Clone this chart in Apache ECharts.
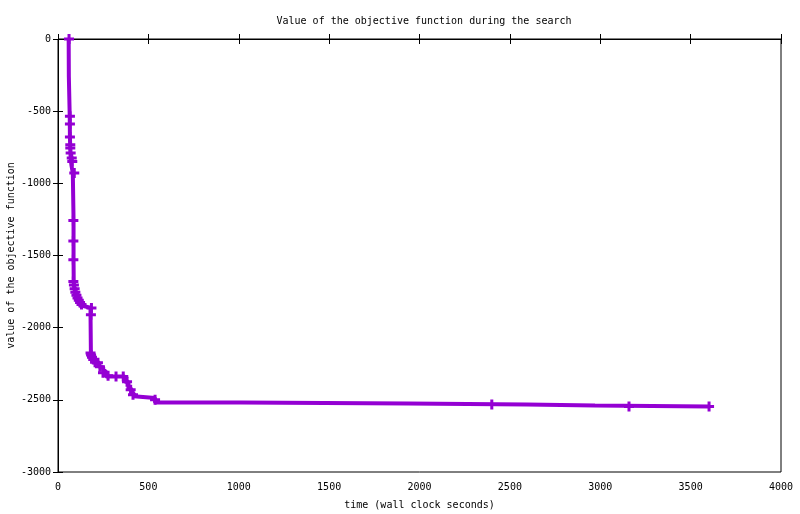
<!DOCTYPE html>
<html>
<head>
<meta charset="utf-8">
<script src="https://cdn.jsdelivr.net/npm/echarts@6/dist/echarts.min.js"></script>
<style>
  html, body { margin: 0; padding: 0; background: #fff; }
  #main { width: 800px; height: 514px; }
</style>
</head>
<body>
<div id="main"></div>
<script>
// best value so far, drawn as steps (time in s, objective value)
var stepTimes = [59, 60, 65, 66, 68, 70, 75, 82, 86, 86, 86, 87, 90, 93, 97, 103, 110, 118, 126, 140,
  180, 180, 182, 187, 195, 205, 215, 225, 235, 250, 265, 370, 390, 405, 420, 430, 537, 1011, 1937, 2593, 2971, 3602];
var stepValues = [0, -260, -540, -680, -760, -830, -880, -930, -1250, -1400, -1530, -1680, -1720, -1750, -1770, -1790, -1810, -1830, -1850, -1862,
  -1864, -1915, -2176, -2195, -2210, -2225, -2240, -2260, -2275, -2300, -2338, -2375, -2420, -2455, -2475, -2488, -2518, -2525, -2532, -2539, -2546, -2546];

// reported points (plus markers)
var markTimes = [61, 66, 66, 66, 68, 68, 70, 76, 79, 90, 85, 85, 85, 85, 88, 92, 96, 102, 108, 115, 122, 130, 185, 182,
  180, 183, 188, 195, 205, 221, 232, 249, 277, 321, 361, 382, 402, 415, 537, 2400, 3159, 3602];
var markValues = [0, -536, -589, -679, -732, -755, -790, -825, -848, -929, -1257, -1400, -1530, -1680, -1705, -1730, -1755, -1775, -1795, -1810, -1825, -1840, -1864, -1910,
  -2176, -2190, -2205, -2220, -2240, -2243, -2270, -2313, -2334, -2338, -2338, -2375, -2430, -2464, -2500, -2532, -2546, -2546];

var xTicks = { min: 0, max: 4000, interval: 500 };
var yTicks = { min: -3000, max: 0, interval: 500 };

var myChart = echarts.init(document.getElementById('main'));

var font = 'DejaVu Sans Mono';
var plus = 'path://M3.5,0H6.5V3.5H10V6.5H6.5V10H3.5V6.5H0V3.5H3.5Z';

var axisLine = { show: true, lineStyle: { color: '#000', width: 1 } };
var tick = { show: true, inside: true, length: 5, lineStyle: { color: '#000' } };
var plain = function (v) { return String(v); };

myChart.setOption({
  backgroundColor: '#fff',
  animation: false,
  title: {
    text: 'Value of the objective function during the search',
    left: 419, top: 11, textAlign: 'center',
    textStyle: { fontFamily: font, fontSize: 10, fontWeight: 'normal', color: '#000' }
  },
  grid: {
    left: 58, right: 19, top: 39, bottom: 42,
    outerBoundsMode: 'none', containLabel: false,
    show: true, borderColor: '#000', borderWidth: 1
  },
  xAxis: [{
    type: 'value', min: xTicks.min, max: xTicks.max, interval: xTicks.interval,
    name: 'time (wall clock seconds)', nameLocation: 'middle', nameGap: 28, nameMoveOverlap: false,
    nameTextStyle: { fontFamily: font, fontSize: 10, color: '#000' },
    axisLine: axisLine, axisTick: tick, splitLine: { show: false },
    axisLabel: { fontFamily: font, fontSize: 10, color: '#000', margin: 10, formatter: plain }
  }, {
    type: 'value', position: 'top', min: xTicks.min, max: xTicks.max, interval: xTicks.interval,
    axisLine: axisLine, axisTick: tick, splitLine: { show: false }, axisLabel: { show: false }
  }],
  yAxis: [{
    type: 'value', min: yTicks.min, max: yTicks.max, interval: yTicks.interval,
    name: 'value of the objective function', nameLocation: 'middle', nameGap: 42, nameRotate: 90,
    nameMoveOverlap: false,
    nameTextStyle: { fontFamily: font, fontSize: 10, color: '#000' },
    axisLine: axisLine, axisTick: tick, splitLine: { show: false },
    axisLabel: { fontFamily: font, fontSize: 10, color: '#000', margin: 7, formatter: plain }
  }, {
    type: 'value', position: 'right', min: yTicks.min, max: yTicks.max, interval: yTicks.interval,
    axisLine: axisLine, axisTick: tick, splitLine: { show: false }, axisLabel: { show: false }
  }],
  series: [{
    type: 'line',
    step: 'end',
    showSymbol: false,
    lineStyle: { color: '#9400D3', width: 4 },
    data: stepTimes.map(function (t, i) { return [t, stepValues[i]]; })
  }, {
    type: 'scatter',
    symbol: plus,
    symbolSize: 10,
    itemStyle: { color: '#9400D3', opacity: 1 },
    data: markTimes.map(function (t, i) { return [t, markValues[i]]; })
  }]
});
</script>
</body>
</html>
